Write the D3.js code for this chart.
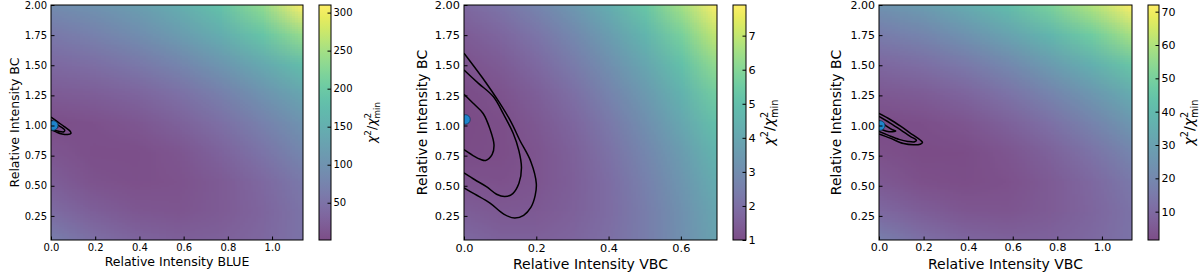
<!DOCTYPE html>
<html>
<head>
<meta charset="utf-8">
<script src="https://cdn.jsdelivr.net/npm/d3@7"></script>
<style>
  body { margin: 0; background: #fff; }
  svg { display: block; }
</style>
</head>
<body>
<div id="chart"></div>
<script>
// grid rows run from the top of the plot (2.00) down to the bottom (0.05)
const yGrid = [2.0, 1.75625, 1.5125, 1.26875, 1.025, 0.78125, 0.5375, 0.29375, 0.05];
const xGridWide = [0, 0.19, 0.38, 0.57, 0.76, 0.95, 1.14];
const xGridVbc = [0, 0.1, 0.2, 0.3, 0.4, 0.5, 0.6, 0.7];

const chiBlue = [
  [88, 100, 120, 148, 185, 235, 310],
  [60, 72, 90, 115, 148, 190, 240],
  [38, 45, 58, 78, 105, 140, 180],
  [20, 23, 32, 48, 70, 100, 135],
  [4, 8, 14, 27, 46, 72, 103],
  [12, 5, 5, 13, 29, 52, 82],
  [22, 10, 6, 9, 19, 37, 62],
  [40, 24, 15, 13, 19, 32, 54],
  [68, 46, 32, 26, 27, 35, 52]
];
const chiVbc = [
  [1.80, 2.17, 2.71, 3.41, 4.29, 5.33, 6.54, 7.90],
  [1.45, 1.75, 2.21, 2.85, 3.65, 4.62, 5.76, 7.06],
  [1.20, 1.42, 1.82, 2.38, 3.11, 4.00, 5.07, 6.30],
  [1.05, 1.20, 1.53, 2.02, 2.68, 3.50, 4.50, 5.66],
  [1.00, 1.08, 1.33, 1.75, 2.34, 3.09, 4.02, 5.11],
  [1.05, 1.06, 1.24, 1.59, 2.10, 2.78, 3.63, 4.65],
  [1.21, 1.14, 1.25, 1.53, 1.97, 2.58, 3.36, 4.31],
  [1.46, 1.33, 1.36, 1.57, 1.94, 2.47, 3.18, 4.06],
  [1.82, 1.61, 1.57, 1.71, 2.00, 2.47, 3.11, 3.91]
];
const chiVbc2 = [
  [24, 28, 34, 41, 50, 60, 72],
  [16, 19, 24, 30.5, 38.5, 48, 59],
  [9.3, 11.5, 15, 20.5, 27.5, 36, 46],
  [4.9, 6, 8.6, 12.9, 18.8, 26, 35],
  [1.5, 2.6, 4.2, 7.3, 12.1, 18.4, 26.4],
  [2.7, 1.6, 2.0, 4.0, 7.7, 12.9, 19.7],
  [5.0, 2.8, 2.1, 3.0, 5.5, 9.7, 15.4],
  [9.6, 6.2, 4.4, 4.2, 5.7, 8.7, 13.3],
  [17, 12, 9, 7.7, 8, 10, 13.5]
];

// confidence contours, traced as [x, y] in data units
const contoursBlue = [
  [[0, 1.07], [0.03, 1.03], [0.06, 0.99], [0.088, 0.95], [0.09, 0.935], [0.075, 0.925], [0.05, 0.93], [0.025, 0.945], [0, 0.965]],
  [[0, 1.045], [0.03, 1.005], [0.062, 0.962], [0.058, 0.948], [0.035, 0.952], [0.012, 0.965], [0, 0.975]],
  [[0, 1.025], [0.02, 1.0], [0.03, 0.985], [0.015, 0.98], [0, 0.985]]
];
const contoursVbc = [
  [[0, 1.60], [0.05, 1.40], [0.099, 1.185], [0.13, 1.03], [0.154, 0.88], [0.185, 0.70], [0.2, 0.52], [0.197, 0.42], [0.185, 0.32], [0.165, 0.255], [0.14, 0.232], [0.11, 0.265], [0.072, 0.356], [0.03, 0.43], [0, 0.483]],
  [[0, 1.46], [0.04, 1.35], [0.081, 1.24], [0.11, 1.09], [0.136, 0.936], [0.152, 0.79], [0.159, 0.65], [0.152, 0.52], [0.135, 0.435], [0.113, 0.41], [0.09, 0.43], [0.062, 0.493], [0.03, 0.55], [0, 0.607]],
  [[0, 1.26], [0.027, 1.18], [0.053, 1.10], [0.072, 0.97], [0.083, 0.84], [0.078, 0.76], [0.06, 0.71], [0.045, 0.72], [0.03, 0.742], [0, 0.80]]
];
const contoursVbc2 = [
  [[0, 1.10], [0.05, 1.05], [0.10, 0.99], [0.15, 0.925], [0.185, 0.88], [0.195, 0.86], [0.185, 0.845], [0.155, 0.84], [0.11, 0.85], [0.05, 0.895], [0, 0.93]],
  [[0, 1.075], [0.05, 1.02], [0.10, 0.96], [0.14, 0.91], [0.168, 0.878], [0.16, 0.865], [0.13, 0.868], [0.09, 0.885], [0.04, 0.92], [0, 0.95]],
  [[0, 1.04], [0.03, 1.0], [0.06, 0.965], [0.075, 0.955], [0.06, 0.948], [0.03, 0.955], [0, 0.975]]
];

const bestBlue = [0.01, 1.0];
const bestVbc = [0.004, 1.05];
const bestVbc2 = [0.005, 1.0];

const yTicks = [0.25, 0.5, 0.75, 1.0, 1.25, 1.5, 1.75, 2.0];
const xTicksBlue = [0, 0.2, 0.4, 0.6, 0.8, 1.0];
const xTicksVbc = [0, 0.2, 0.4, 0.6];
const xTicksVbc2 = [0, 0.2, 0.4, 0.6, 0.8, 1.0];
const cbTicksBlue = [50, 100, 150, 200, 250, 300];
const cbTicksVbc = [1, 2, 3, 4, 5, 6, 7];
const cbTicksVbc2 = [10, 20, 30, 40, 50, 60, 70];

const TOP = 5, BOTTOM = 240;
const FONT = "DejaVu Sans";

const svg = d3.select("#chart").append("svg")
  .attr("width", 1200)
  .attr("height", 275);
const defs = svg.append("defs");

function drawPanel(p) {
  const x = d3.scaleLinear().domain(p.xDomain).range([p.left, p.right]);
  const y = d3.scaleLinear().domain([0.05, 2.0]).range([BOTTOM, TOP]);
  const color = d3.scaleSequential(d3.interpolateViridis).domain(p.cDomain);

  const clipId = "clip-" + p.id;
  defs.append("clipPath").attr("id", clipId)
    .append("rect")
    .attr("x", p.left).attr("y", TOP)
    .attr("width", p.right - p.left).attr("height", BOTTOM - TOP);

  // heatmap: one pixel per grid node, browser smoothing does the rest
  const nx = p.xs.length, ny = yGrid.length;
  const canvas = document.createElement("canvas");
  canvas.width = nx;
  canvas.height = ny;
  const ctx = canvas.getContext("2d");
  const img = ctx.createImageData(nx, ny);
  p.values.forEach((row, j) => row.forEach((v, i) => {
    const c = d3.rgb(color(v));
    const k = (j * nx + i) * 4;
    img.data[k] = c.r;
    img.data[k + 1] = c.g;
    img.data[k + 2] = c.b;
    img.data[k + 3] = 255;
  }));
  ctx.putImageData(img, 0, 0);

  const cw = x(p.xs[1]) - x(p.xs[0]);
  const ch = y(yGrid[1]) - y(yGrid[0]);
  const plot = svg.append("g").attr("clip-path", `url(#${clipId})`);
  plot.append("image")
    .attr("href", canvas.toDataURL())
    .attr("x", x(p.xs[0]) - cw / 2)
    .attr("y", y(yGrid[0]) - ch / 2)
    .attr("width", cw * nx)
    .attr("height", ch * ny)
    .attr("preserveAspectRatio", "none")
    .attr("opacity", 0.7);

  const line = d3.line()
    .x(d => x(d[0]))
    .y(d => y(d[1]))
    .curve(d3.curveCatmullRom.alpha(0.5));
  plot.selectAll(".contour")
    .data(p.contours)
    .enter()
    .append("path")
    .attr("class", "contour")
    .attr("d", line)
    .attr("fill", "none")
    .attr("stroke", "#000")
    .attr("stroke-width", 1.5);

  plot.append("circle")
    .attr("cx", x(p.best[0]))
    .attr("cy", y(p.best[1]))
    .attr("r", 4.8)
    .attr("fill", "#1f85cc")
    .attr("stroke", "#123a5c")
    .attr("stroke-width", 0.8);

  svg.append("rect")
    .attr("x", p.left).attr("y", TOP)
    .attr("width", p.right - p.left).attr("height", BOTTOM - TOP)
    .attr("fill", "none").attr("stroke", "#000").attr("stroke-width", 1);

  // axes, ticks pointing inwards
  svg.append("g")
    .attr("transform", `translate(0,${BOTTOM})`)
    .call(d3.axisBottom(x).tickValues(p.xTicks).tickFormat(d3.format(".1f")).tickSize(-3.5).tickPadding(3.5))
    .call(g => g.select(".domain").remove())
    .attr("font-family", FONT)
    .attr("font-size", p.tickFs);

  svg.append("g")
    .attr("transform", `translate(${p.left},0)`)
    .call(d3.axisLeft(y).tickValues(yTicks).tickFormat(d3.format(".2f")).tickSize(-3.5).tickPadding(4))
    .call(g => g.select(".domain").remove())
    .attr("font-family", FONT)
    .attr("font-size", p.tickFs);

  svg.append("text")
    .attr("x", (p.left + p.right) / 2)
    .attr("y", p.xLabelY)
    .attr("text-anchor", "middle")
    .attr("font-family", FONT)
    .attr("font-size", p.labelFs)
    .text(p.xLabel);

  svg.append("text")
    .attr("transform", `translate(${p.yLabelX},${(TOP + BOTTOM) / 2}) rotate(-90)`)
    .attr("text-anchor", "middle")
    .attr("font-family", FONT)
    .attr("font-size", p.labelFs)
    .text("Relative Intensity BC");

  // colorbar
  const gradId = "grad-" + p.id;
  const grad = defs.append("linearGradient").attr("id", gradId)
    .attr("x1", 0).attr("y1", 1).attr("x2", 0).attr("y2", 0);
  d3.range(0, 1.0001, 0.05).forEach(t => {
    grad.append("stop").attr("offset", t).attr("stop-color", d3.interpolateViridis(t));
  });
  svg.append("rect")
    .attr("x", p.cbLeft).attr("y", TOP)
    .attr("width", p.cbRight - p.cbLeft).attr("height", BOTTOM - TOP)
    .attr("fill", `url(#${gradId})`)
    .attr("opacity", 0.7);
  svg.append("rect")
    .attr("x", p.cbLeft).attr("y", TOP)
    .attr("width", p.cbRight - p.cbLeft).attr("height", BOTTOM - TOP)
    .attr("fill", "none").attr("stroke", "#000").attr("stroke-width", 1);

  const cScale = d3.scaleLinear().domain(p.cDomain).range([BOTTOM, TOP]);
  svg.append("g")
    .attr("transform", `translate(${p.cbRight},0)`)
    .call(d3.axisRight(cScale).tickValues(p.cbTicks).tickFormat(d3.format("d")).tickSize(-3.5).tickPadding(2.5))
    .call(g => g.select(".domain").remove())
    .attr("font-family", FONT)
    .attr("font-size", p.tickFs);

  // chi^2 / chi^2_min label
  const lab = svg.append("g")
    .attr("transform", `translate(${p.cbLabelX},${(TOP + BOTTOM) / 2}) rotate(-90)`)
    .attr("font-family", FONT);
  const inner = lab.append("g");
  const fs = p.labelFs;
  let cx = 0;
  const put = (s, size, dy, italic) => {
    const t = inner.append("text")
      .attr("x", cx).attr("y", dy)
      .attr("font-size", size)
      .attr("font-style", italic ? "italic" : "normal")
      .text(s);
    return t.node().getComputedTextLength();
  };
  cx += put("χ", fs, 0, true);
  cx += put("2", fs * 0.7, -fs * 0.42, false);
  cx += put("/", fs, 0, false);
  cx += put("χ", fs, 0, true);
  const w2 = put("2", fs * 0.7, -fs * 0.42, false);
  const wm = put("min", fs * 0.7, fs * 0.28, false);
  cx += Math.max(w2, wm);
  inner.attr("transform", `translate(${-cx / 2},0)`);
}

drawPanel({
  id: "blue", xs: xGridWide, values: chiBlue, contours: contoursBlue, best: bestBlue,
  xDomain: [0, 1.14], left: 51, right: 303, cbLeft: 319, cbRight: 331,
  cDomain: [1, 310], cbTicks: cbTicksBlue, xTicks: xTicksBlue,
  xLabel: "Relative Intensity BLUE",
  tickFs: 10, labelFs: 12.5, xLabelY: 266, yLabelX: 19, cbLabelX: 376
});
drawPanel({
  id: "vbc", xs: xGridVbc, values: chiVbc, contours: contoursVbc, best: bestVbc,
  xDomain: [0, 0.7], left: 464, right: 717, cbLeft: 733, cbRight: 746,
  cDomain: [1, 7.9], cbTicks: cbTicksVbc, xTicks: xTicksVbc,
  xLabel: "Relative Intensity VBC",
  tickFs: 11.3, labelFs: 14, xLabelY: 269, yLabelX: 427, cbLabelX: 774
});
drawPanel({
  id: "vbc2", xs: xGridWide, values: chiVbc2, contours: contoursVbc2, best: bestVbc2,
  xDomain: [0, 1.135], left: 879, right: 1132, cbLeft: 1148, cbRight: 1159,
  cDomain: [1.5, 72], cbTicks: cbTicksVbc2, xTicks: xTicksVbc2,
  xLabel: "Relative Intensity VBC",
  tickFs: 11, labelFs: 14, xLabelY: 269, yLabelX: 841, cbLabelX: 1194
});
</script>
</body>
</html>
